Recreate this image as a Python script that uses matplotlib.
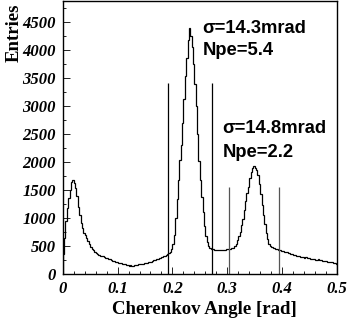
import numpy as np
import matplotlib
matplotlib.use("Agg")
import matplotlib.pyplot as plt
from matplotlib.ticker import MultipleLocator

# Histogram bin contents, bins of 0.0025 rad from 0 to 0.5
counts = [
    350, 650, 950, 1180, 1360, 1500, 1640, 1670, 1620, 1530,
    1400, 1200, 1050, 910, 820, 740, 690, 640, 590, 540,
    490, 450, 420, 395, 375, 360, 345, 330, 320, 315,
    300, 290, 285, 275, 260, 250, 240, 225, 215, 210,
    200, 195, 190, 185, 175, 170, 165, 160, 150, 155,
    145, 150, 160, 155, 165, 170, 175, 180, 185, 195,
    200, 205, 210, 220, 220, 235, 245, 250, 265, 275,
    285, 290, 305, 320, 330, 345, 360, 380, 400, 450,
    530, 700, 1000, 1340, 1680, 2030, 2310, 2700, 3130, 3530,
    3850, 4180, 4400, 4250, 4050, 3750, 3400, 3000, 2500, 2010,
    1680, 1380, 1100, 850, 680, 570, 500, 460, 445, 440,
    430, 435, 425, 430, 430, 425, 430, 435, 430, 440,
    440, 445, 455, 460, 470, 500, 530, 600, 670, 750,
    870, 990, 1140, 1300, 1450, 1560, 1720, 1820, 1900, 1930,
    1900, 1850, 1760, 1600, 1420, 1230, 1050, 900, 740, 620,
    540, 500, 480, 470, 460, 445, 440, 430, 420, 410,
    405, 395, 390, 385, 375, 370, 365, 355, 340, 335,
    325, 320, 315, 310, 305, 300, 290, 295, 285, 280,
    270, 268, 272, 262, 258, 255, 260, 248, 243, 238,
    240, 232, 228, 222, 218, 212, 214, 205, 190, 180,
]
x_min, x_max = 0.0, 0.5

# Fit-window markers
line_x = [0.1925, 0.2716, 0.3040, 0.3940]
line_h = [3410, 3410, 1555, 1555]
line_c = ["black", "black", "#555555", "#555555"]

# Annotations
ann_text = ["σ=14.3mrad", "Npe=5.4", "σ=14.8mrad", "Npe=2.2"]
ann_x = [0.2552, 0.2552, 0.2917, 0.2917]
ann_y = [4300, 3910, 2518, 2090]

yticks = [0, 500, 1000, 1500, 2000, 2500, 3000, 3500, 4000, 4500]
xticks = [0, 0.1, 0.2, 0.3, 0.4, 0.5]
xticklabels = ["0", "0.1", "0.2", "0.3", "0.4", "0.5"]

fig = plt.figure(figsize=(3.54, 3.2), dpi=100)
ax = fig.add_axes([62.7 / 354, 46 / 320, (337 - 62.7) / 354, 273 / 320])

edges = np.linspace(x_min, x_max, len(counts) + 1)
ax.stairs(counts, edges, color="black", linewidth=0.9)

for xv, hv, cv in zip(line_x, line_h, line_c):
    ax.vlines(xv, 0, hv, color=cv, linewidth=0.9)

for t, xv, yv in zip(ann_text, ann_x, ann_y):
    ax.text(xv, yv, t, fontsize=13.2, fontweight="bold",
            family=["Liberation Sans", "DejaVu Sans"], ha="left", va="baseline")

ax.set_xlim(x_min, x_max)
ax.set_ylim(0, 4876)
ax.set_xticks(xticks)
ax.set_xticklabels(xticklabels)
ax.set_yticks(yticks)
ax.xaxis.set_minor_locator(MultipleLocator(0.02))
ax.yaxis.set_minor_locator(MultipleLocator(250))
ax.tick_params(which="both", direction="in", top=False, right=False)
ax.tick_params(which="major", length=5, width=0.6, pad=5)
ax.tick_params(which="minor", length=2.5, width=0.6)
for sp in ax.spines.values():
    sp.set_linewidth(1.0)

for lab in ax.get_xticklabels() + ax.get_yticklabels():
    lab.set_fontfamily("Liberation Serif")
    lab.set_fontweight("bold")
    lab.set_fontstyle("italic")
    lab.set_fontsize(12)

fig.text(297 / 354, 1 - 310 / 320, "Cherenkov Angle [rad]", ha="right", va="center",
         family="Liberation Serif", fontweight="bold", fontsize=13.5)
fig.text(14 / 354, 1 - 4 / 320, "Entries", ha="center", va="top", rotation=90,
         family="Liberation Serif", fontweight="bold", fontsize=13.5)

fig.savefig("out.png", dpi=100)
